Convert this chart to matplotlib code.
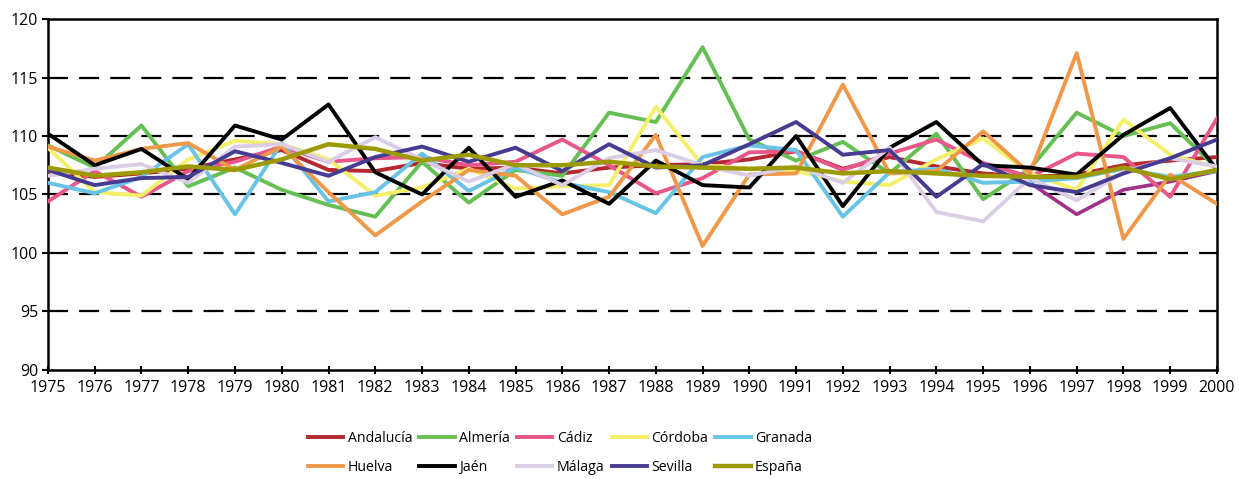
import matplotlib
matplotlib.use("Agg")
import matplotlib.pyplot as plt

years = list(range(1975, 2001))

andalucia = [107.0, 106.5, 106.8, 107.2, 108.0, 108.8, 107.1, 107.0, 107.7, 107.2, 107.3, 106.8,
             107.3, 107.5, 107.6, 108.0, 108.7, 107.2, 108.2, 107.4, 106.8, 106.5, 106.7, 107.5,
             107.9, 108.2]
almeria = [109.2, 107.3, 110.9, 105.7, 107.3, 105.4, 104.1, 103.1, 107.8, 104.3, 107.1, 106.6,
           112.0, 111.2, 117.6, 109.7, 107.9, 109.5, 106.8, 110.2, 104.6, 107.2, 112.0, 110.0,
           111.1, 107.2]
cadiz = [104.4, 107.0, 104.8, 107.0, 107.8, 109.1, 107.8, 108.1, 108.2, 107.5, 107.8, 109.7,
         107.5, 105.1, 106.4, 108.6, 108.7, 107.1, 108.5, 109.7, 107.7, 106.5, 108.5, 108.2,
         104.8, 111.5]
cordoba = [109.0, 105.2, 104.9, 108.0, 109.6, 109.3, 108.0, 104.9, 105.6, 107.2, 105.5, 105.7,
           105.8, 112.5, 107.5, 107.2, 107.0, 106.1, 105.8, 108.0, 109.8, 106.8, 105.4, 111.4,
           108.4, 107.3]
granada = [106.0, 105.1, 106.5, 109.3, 103.3, 109.4, 104.4, 105.2, 108.5, 105.3, 107.3, 106.0,
           105.2, 103.4, 108.2, 109.2, 108.8, 103.1, 106.9, 107.2, 106.0, 106.1, 106.4, 107.2,
           106.5, 107.0]
huelva = [109.1, 107.9, 108.9, 109.4, 107.1, 109.1, 105.2, 101.5, 104.4, 107.1, 106.6, 103.3,
          104.8, 110.1, 100.6, 106.7, 106.8, 114.4, 106.8, 107.0, 110.4, 106.8, 117.1, 101.2,
          106.7, 104.2]
jaen = [110.2, 107.5, 108.9, 106.3, 110.9, 109.7, 112.7, 106.9, 105.0, 109.0, 104.8, 106.2,
        104.2, 107.9, 105.8, 105.6, 110.0, 104.0, 109.0, 111.2, 107.5, 107.3, 106.7, 110.1,
        112.4, 107.1]
malaga = [106.6, 107.2, 107.6, 106.0, 109.1, 109.3, 107.8, 109.9, 108.0, 106.1, 107.6, 105.8,
          108.1, 108.8, 107.5, 106.6, 107.4, 106.0, 109.0, 103.5, 102.7, 106.4, 104.5, 106.9,
          108.1, 107.4]
sevilla = [107.1, 105.8, 106.4, 106.5, 108.7, 107.7, 106.6, 108.2, 109.1, 107.8, 109.0, 107.0,
           109.3, 107.3, 107.5, 109.3, 111.2, 108.4, 108.8, 104.8, 107.6, 105.8, 105.2, 106.8,
           108.1, 109.7]
espana = [107.3, 106.6, 106.9, 107.4, 107.1, 108.0, 109.3, 108.9, 107.9, 108.4, 107.5, 107.5,
          107.8, 107.4, 107.3, 107.2, 107.3, 106.8, 107.0, 106.8, 106.6, 106.5, 106.5, 107.3,
          106.3, 107.1]
# stray unlabeled line visible at the end of the period
extra_years = [1996, 1997, 1998, 1999, 2000]
extra = [106.0, 103.3, 105.4, 106.1, 107.0]

series = [
    ("Andalucía", andalucia, "#b5262f"),
    ("Almería", almeria, "#66bf52"),
    ("Cádiz", cadiz, "#e8578a"),
    ("Córdoba", cordoba, "#f5ef6a"),
    ("Granada", granada, "#68c3e6"),
    ("Huelva", huelva, "#f0984a"),
    ("Jaén", jaen, "#000000"),
    ("Málaga", malaga, "#dccde6"),
    ("Sevilla", sevilla, "#453c92"),
    ("España", espana, "#9c9a00"),
]

plt.rcParams["font.family"] = ["Open Sans", "DejaVu Sans"]

fig = plt.figure(figsize=(12.39, 4.79), dpi=100)
ax = fig.add_axes([0.0387, 0.228, 0.9435, 0.732])

for yv in [95, 100, 105, 110, 115]:
    ax.axhline(yv, color="black", lw=1.6, dashes=(9, 5), zorder=1)

ax.plot(extra_years, extra, color="#a0308a", lw=2.6, zorder=2)
handles = {}
for name, vals, col in series:
    lw = 2.8 if name != "España" else 3.2
    (h,) = ax.plot(years, vals, color=col, lw=lw, label=name, zorder=3)
    handles[name] = h

ax.set_xlim(1975, 2000)
ax.set_ylim(90, 120)
ax.set_xticks(years)
ax.set_yticks([90, 95, 100, 105, 110, 115, 120])
ax.tick_params(axis="x", direction="inout", length=6, width=1.5, labelsize=11.5, pad=4)
ax.tick_params(axis="y", direction="out", length=4, width=1.5, labelsize=11.5, pad=3)
for s in ax.spines.values():
    s.set_linewidth(1.8)

order = ["Andalucía", "Huelva", "Almería", "Jaén", "Cádiz", "Málaga",
         "Córdoba", "Sevilla", "Granada", "España"]
fig.legend([handles[n] for n in order], order, loc="center", ncol=5,
           bbox_to_anchor=(0.452, 0.054), frameon=False, fontsize=10.2,
           handlelength=2.5, handletextpad=0.3, columnspacing=0.5,
           labelspacing=1.0)

fig.savefig("out.png", dpi=100)
